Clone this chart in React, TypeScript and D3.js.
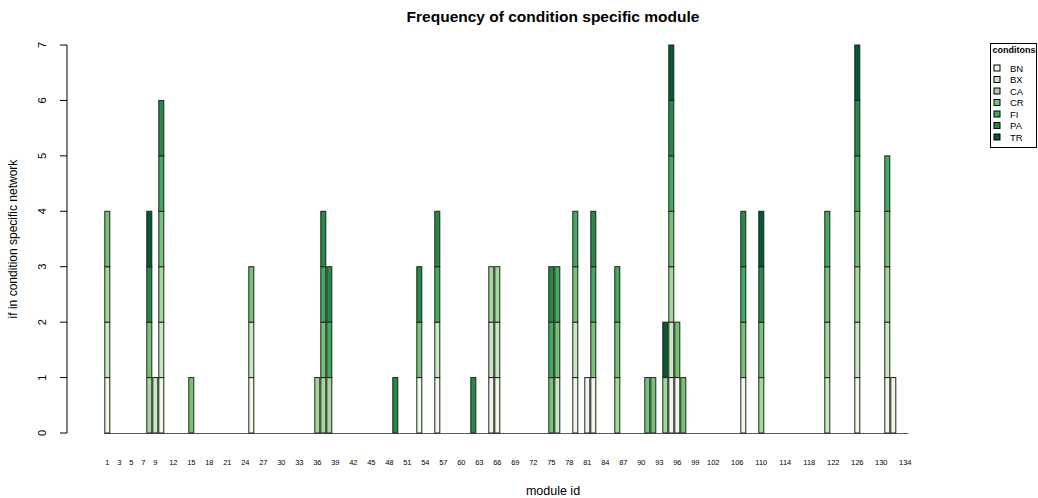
import React from "react";
import * as d3 from "d3";

const conditions = ["BN", "BX", "CA", "CR", "FI", "PA", "TR"];
const colors = ["#EDF8E9", "#C7E9C0", "#A1D99B", "#74C476", "#41AB5D", "#238B45", "#005A32"];

// modules in which each condition is present (value 1)
const BN = [1, 10, 25, 53, 56, 65, 66, 79, 81, 82, 95, 96, 107, 126, 131, 132];
const BX = [1, 9, 10, 25, 56, 65, 66, 76, 79, 95, 121, 126, 131];
const CA = [1, 8, 10, 36, 37, 38, 65, 66, 86, 94, 95, 110, 121, 126, 131];
const CR = [1, 8, 10, 15, 25, 37, 53, 75, 76, 79, 82, 86, 91, 92, 95, 96, 97, 107, 110, 121, 126, 131];
const FI = [10, 37, 38, 56, 75, 76, 79, 82, 86, 95, 107, 121, 126, 131];
const PA = [8, 10, 37, 38, 49, 53, 56, 62, 75, 82, 95, 107, 110, 126];
const TR = [8, 94, 95, 110, 126];

const moduleIds = d3.range(1, 135);
const xTickLabels = [1, 3, 5, 7, 9, 12, 15, 18, 21, 24, 27, 30, 33, 36, 39, 42, 45, 48, 51, 54, 57, 60, 63, 66, 69, 72, 75, 78, 81, 84, 87, 90, 93, 96, 99, 102, 106, 110, 114, 118, 122, 126, 130, 134];
const yTicks = [0, 1, 2, 3, 4, 5, 6, 7];

const sets: Record<string, number[]> = { BN, BX, CA, CR, FI, PA, TR };

const table = moduleIds.map((id) => {
  const row: any = { id };
  conditions.forEach((c) => (row[c] = sets[c].includes(id) ? 1 : 0));
  return row;
});

export default function App() {
  const W = 1038, H = 498;
  const x = d3.scaleBand<number>().domain(moduleIds).range([104.8, 907.8]).paddingInner(1 / 6).paddingOuter(0);
  const y = d3.scaleLinear().domain([0, 7]).range([433, 45]);
  const stack = d3.stack<any>().keys(conditions)(table);
  const font = "'Liberation Sans', Arial, Helvetica, sans-serif";
  const axisX = 67;
  const legendY0 = 68, legendStep = 11.5;

  return (
    <svg width={W} height={H} style={{ position: "absolute", left: 0, top: 0, background: "#fff" }} fontFamily={font}>
      <rect x={0} y={0} width={W} height={H} fill="#fff" />
      <text x={553} y={22} textAnchor="middle" fontSize={15.5} fontWeight="bold">Frequency of condition specific module</text>

      {/* zero-height baseline marks for every module */}
      {moduleIds.map((id) => (
        <line key={"b" + id} x1={x(id)! - 0.6} x2={x(id)! + x.bandwidth() + 0.6} y1={y(0) + 0.5} y2={y(0) + 0.5} stroke="#555" strokeWidth={1} />
      ))}

      {stack.map((layer, li) => (
        <g key={conditions[li]}>
          {layer.map((d, i) => {
            const h = y(d[0]) - y(d[1]);
            if (h <= 0) return null;
            return (
              <rect key={i} x={x(moduleIds[i])!} y={y(d[1])} width={x.bandwidth()} height={h}
                fill={colors[li]} stroke="#222" strokeWidth={1} />
            );
          })}
        </g>
      ))}

      {/* y axis */}
      <line x1={axisX} x2={axisX} y1={y(0)} y2={y(7)} stroke="#000" />
      {yTicks.map((t) => (
        <g key={t}>
          <line x1={axisX - 7} x2={axisX} y1={y(t)} y2={y(t)} stroke="#000" />
          <text transform={`translate(46,${y(t)}) rotate(-90)`} textAnchor="middle" fontSize={11}>{t}</text>
        </g>
      ))}
      <text transform={`translate(17,239) rotate(-90)`} textAnchor="middle" fontSize={12}>if in condition specific network</text>

      {/* x tick labels */}
      {xTickLabels.map((t) => (
        <text key={t} x={x(t)! + x.bandwidth() / 2} y={465} textAnchor="middle" fontSize={7.5}>{t}</text>
      ))}
      <text x={553} y={495} textAnchor="middle" fontSize={12.5}>module id</text>

      {/* legend */}
      <rect x={990.5} y={43.5} width={46} height={104} fill="#fff" stroke="#000" />
      <text x={1014} y={53} textAnchor="middle" fontSize={9} fontWeight="bold">conditons</text>
      {conditions.map((c, i) => (
        <g key={c}>
          <rect x={994} y={legendY0 + i * legendStep - 3} width={6} height={6} fill={colors[i]} stroke="#000" />
          <text x={1010} y={legendY0 + i * legendStep + 3.5} fontSize={9.5}>{c}</text>
        </g>
      ))}
    </svg>
  );
}
